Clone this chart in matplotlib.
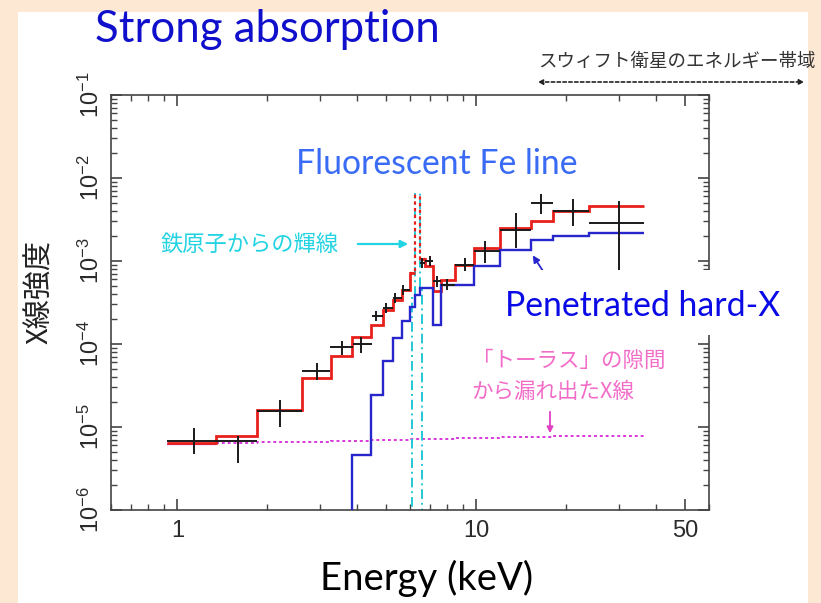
import matplotlib
matplotlib.use("Agg")
import matplotlib.pyplot as plt
import numpy as np
from matplotlib.patches import Rectangle, FancyArrowPatch

W, H = 821, 603

# model energy bins (keV) and log10 intensities
bin_edges = [0.926, 1.342, 1.848, 2.61, 3.26, 3.83, 4.43, 4.86, 5.25, 5.62, 5.99,
             6.23, 6.47, 6.72, 7.17, 7.64, 8.47, 9.79, 11.96, 15.26, 18.0, 23.9, 36.4]
total_log = [-5.193, -5.112, -4.79, -4.41, -4.148, -3.92, -3.766, -3.586, -3.465, -3.345,
             -3.145, -1.70, -2.98, -3.064, -3.365, -3.224, -3.043, -2.843, -2.602, -2.522,
             -2.393, -2.341]
# transmitted component, starts above 3.26 keV
hard_edges = bin_edges[4:]
hard_log = [-8.0, -5.333, -4.61, -4.208, -3.928, -3.727, -3.56, -3.405, -3.325, -3.325,
            -3.766, -3.284, -3.284, -3.064, -2.864, -2.743, -2.703, -2.663]
# leaked (scattered) component
leak_log = [-5.205, -5.19, -5.18, -5.175, -5.17, -5.165, -5.16, -5.16, -5.155, -5.155,
            -5.15, -5.15, -5.15, -5.145, -5.145, -5.14, -5.135, -5.13, -5.12, -5.115,
            -5.11, -5.105]
# iron line component
fe_edges = [4.0, 6.07, 6.23, 6.47, 6.56, 9.0]
fe_log = [-8.0, -3.45, -1.70, -3.35, -8.0]

# observed points: energy, energy range, log10 flux and its range
obs_e = [1.136, 1.59, 2.21, 2.93, 3.56, 4.12, 4.61, 4.99, 5.34, 5.69, 6.56, 6.98,
         7.4, 8.0, 9.14, 10.7, 13.6, 16.5, 21.0, 30.0]
obs_elo = [0.926, 1.36, 1.85, 2.61, 3.24, 3.87, 4.47, 4.86, 5.25, 5.62, 6.47, 6.72,
           7.17, 7.64, 8.47, 9.79, 11.96, 15.26, 18.0, 23.9]
obs_ehi = [1.36, 1.85, 2.61, 3.24, 3.87, 4.47, 4.86, 5.25, 5.62, 5.99, 6.72, 7.17,
           7.64, 8.47, 9.79, 11.96, 15.26, 18.0, 23.9, 36.4]
obs_log = [-5.164, -5.172, -4.811, -4.329, -4.04, -4.0, -3.666, -3.566, -3.446, -3.345,
           -3.024, -3.0, -3.245, -3.285, -3.043, -2.883, -2.622, -2.301, -2.393, -2.542]
obs_loglo = [-5.33, -5.434, -5.0, -4.437, -4.136, -4.108, -3.727, -3.626, -3.506, -3.405,
             -3.084, -3.06, -3.315, -3.355, -3.123, -3.026, -2.843, -2.437, -2.582, -3.3]
obs_loghi = [-5.012, -5.112, -4.67, -4.229, -3.968, -3.92, -3.605, -3.506, -3.386, -3.285,
             -2.964, -2.94, -3.175, -3.215, -2.963, -2.765, -2.422, -2.196, -2.257, -2.28]

ytick_vals = [1e-6, 1e-5, 1e-4, 1e-3, 1e-2, 1e-1]
ytick_text = [r'$\mathregular{10^{-6}}$', r'$\mathregular{10^{-5}}$', r'$\mathregular{10^{-4}}$',
              r'$\mathregular{10^{-3}}$', r'$\mathregular{10^{-2}}$', r'$\mathregular{10^{-1}}$']
xtick_vals = [1, 10, 50]
xtick_text = ['1', '10', '50']

JP = ['Noto Sans CJK JP', 'DejaVu Sans']


def fx(x):
    return x / W


def fy(y):
    return 1 - y / H


plt.rcParams['font.family'] = ['Liberation Sans', 'DejaVu Sans']

fig = plt.figure(figsize=(W / 100, H / 100), dpi=100)
fig.patch.set_facecolor('#FDE8D4')
fig.add_artist(Rectangle((fx(18), 0), fx(808) - fx(18), fy(12), transform=fig.transFigure,
                         facecolor='white', edgecolor='none', zorder=-5))

ax = fig.add_axes([fx(111), fy(510), fx(709) - fx(111), fy(95) - fy(510)])
ax.set_facecolor('white')
ax.set_xscale('log')
ax.set_yscale('log')
ax.set_xlim(0.6, 60)
ax.set_ylim(1e-6, 1e-1)

edges = np.array(bin_edges)
p = lambda v: 10 ** np.array(v)

# model curves
ax.stairs(p(total_log[:11]), edges[:12], baseline=None, color='#E8201C', lw=2.0, zorder=3)
ax.stairs(p(total_log[10:13]), edges[10:14], baseline=None, color='#E8201C', lw=1.6,
          ls=(0, (1.5, 1.5)), zorder=3)
ax.stairs(p(total_log[12:]), edges[12:], baseline=None, color='#E8201C', lw=2.0, zorder=3)
ax.stairs(p(hard_log), np.array(hard_edges), baseline=None, color='#2626CC', lw=1.7, zorder=3)
ax.stairs(p(leak_log[:1]), edges[:2], baseline=None, color='#D936D9', lw=1.6, zorder=2)
ax.stairs(p(leak_log[1:]), edges[1:], baseline=None, color='#D936D9', lw=1.4,
          ls=(0, (1.5, 1.5)), zorder=2)
ax.stairs(p(fe_log), np.array(fe_edges), baseline=None, color='#22C7D6', lw=1.4,
          ls=(0, (5, 2, 1, 2)), zorder=2)

# observed spectrum
oe = np.array(obs_e)
of = p(obs_log)
ax.errorbar(oe, of,
            xerr=[oe - np.array(obs_elo), np.array(obs_ehi) - oe],
            yerr=[of - p(obs_loglo), p(obs_loghi) - of],
            fmt='none', ecolor='#1A1A1A', elinewidth=1.4, capsize=0, zorder=4)

# axis styling
for s in ax.spines.values():
    s.set_color('#444444')
    s.set_linewidth(1.2)
ax.tick_params(which='both', direction='in', top=True, right=True, color='#444444',
               labelcolor='#2A2A2A', labelsize=17)
ax.tick_params(which='major', length=8, width=1.2)
ax.tick_params(which='minor', length=4, width=1.0)
ax.set_xticks(xtick_vals, xtick_text)
ax.set_yticks(ytick_vals, ytick_text)
ax.tick_params(axis='x', which='major', pad=7)
ax.tick_params(axis='y', which='major', pad=5)
for lab in ax.get_yticklabels():
    lab.set_rotation(90)
    lab.set_va('center')

# annotations inside the axes
ax.annotate('', xy=(15.26, 10 ** -2.904), xytext=(16.9, 10 ** -3.148),
            arrowprops=dict(arrowstyle='-|>', color='#2626CC', lw=1.3, mutation_scale=10),
            zorder=5)

fig.text(fx(161), fy(244), '鉄原子からの輝線', family=JP, fontsize=16, color='#22D3E2',
         va='center', ha='left')
fig.add_artist(FancyArrowPatch((fx(355), fy(244)), (fx(411), fy(244)),
                               transform=fig.transFigure, arrowstyle='-|>',
                               mutation_scale=11, color='#22D3E2', lw=1.6))

fig.text(fx(472), fy(361), '「トーラス」の隙間', family=JP, fontsize=15.5, color='#F26CC8',
         va='center', ha='left')
fig.text(fx(471), fy(392), 'から漏れ出たX線', family=JP, fontsize=15.5, color='#F26CC8',
         va='center', ha='left')
fig.add_artist(FancyArrowPatch((fx(550), fy(409)), (fx(550), fy(436)),
                               transform=fig.transFigure, arrowstyle='-|>',
                               mutation_scale=9, color='#E040C0', lw=1.3))

# white boxes behind the English labels
fig.add_artist(Rectangle((fx(275), fy(193)), fx(600) - fx(275), fy(128) - fy(193),
                         transform=fig.transFigure, facecolor='white', edgecolor='none',
                         zorder=1))
fig.add_artist(Rectangle((fx(483), fy(335)), fx(806) - fx(483), fy(270) - fy(335),
                         transform=fig.transFigure, facecolor='white', edgecolor='none',
                         zorder=1))

fig.text(fx(95), fy(42), 'Strong absorption', family='Lato', fontsize=31.5, color='#1010CC',
         va='baseline', ha='left')
fig.text(fx(296), fy(174), 'Fluorescent Fe line', family='Lato', fontsize=24.3,
         color='#3A6BF5', va='baseline', ha='left')
fig.text(fx(505), fy(316), 'Penetrated hard-X', family='Lato', fontsize=24.3,
         color='#0A0AE6', va='baseline', ha='left')
fig.text(fx(427), fy(590), 'Energy (keV)', family='Lato', fontsize=27.5, color='black',
         va='baseline', ha='center')

fig.text(fx(40), fy(292), 'X線強度', family=JP, fontsize=21, color='#222222',
         rotation=90, va='center', ha='center')

fig.text(fx(538), fy(62), 'スウィフト衛星のエネルギー帯域', family=JP, fontsize=13.3,
         color='#333333', va='center', ha='left')
fig.add_artist(FancyArrowPatch((fx(535), fy(82)), (fx(807), fy(82)),
                               transform=fig.transFigure, arrowstyle='<|-|>',
                               mutation_scale=7, color='#222222', lw=1.2,
                               linestyle=(0, (2, 1.5))))

fig.savefig('out.png', dpi=100, facecolor=fig.get_facecolor())
